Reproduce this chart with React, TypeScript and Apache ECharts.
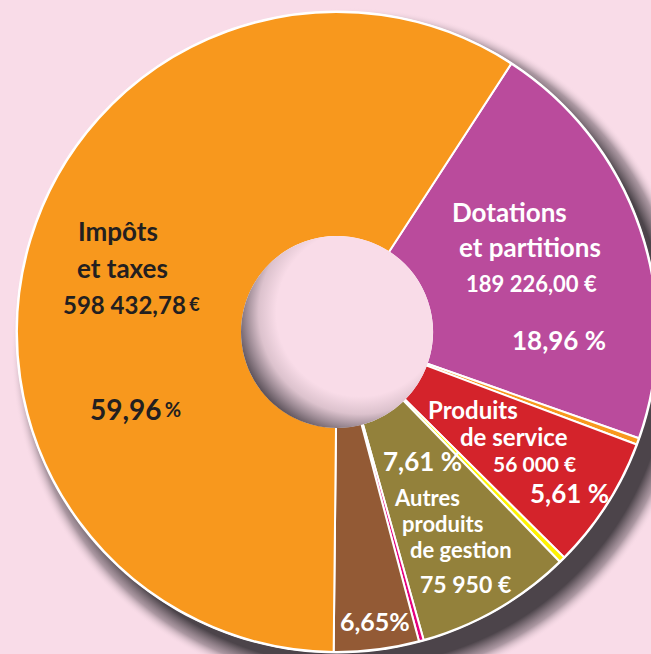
import React, { useEffect, useRef } from "react";
import * as echarts from "echarts";

const categories = [
  "Dotations et partitions",
  "Autres recettes 1",
  "Produits de service",
  "Autres recettes 2",
  "Autres produits de gestion",
  "Autres recettes 3",
  "Autres produits",
  "Impôts et taxes",
];
const shares = [21.22, 0.33, 6.72, 0.31, 7.89, 0.24, 4.29, 59.0];
const colors = ["#BA4B9C", "#F8981D", "#D4232B", "#FFF200", "#93813B", "#E5007D", "#935A35", "#F8981D"];

const impotsLines = ["Impôts", "et taxes"];
const impotsAmount = "598 432,78";
const impotsPct = "59,96";
const dotLines = ["Dotations", "et partitions"];
const dotAmount = "189 226,00 €";
const dotPct = "18,96 %";
const servLines = ["Produits", "de service"];
const servAmount = "56 000 €";
const servPct = "5,61 %";
const gestPct = "7,61 %";
const gestLines = ["Autres", "produits", "de gestion"];
const gestAmount = "75 950 €";
const brownPct = "6,65%";

const FONT = "Lato";

function txt(text: string, x: number, y: number, size: number, color: string) {
  return {
    type: "text",
    z: 50,
    x,
    y,
    style: {
      text,
      fill: color,
      fontFamily: FONT,
      fontWeight: "bold",
      fontSize: size,
      textAlign: "left",
      verticalAlign: "middle",
    },
  };
}

export default function App() {
  const ref = useRef<HTMLDivElement>(null);
  useEffect(() => {
    document.body.style.margin = "0";
    if (!ref.current) return;
    const chart = echarts.init(ref.current, undefined, { renderer: "svg" });
    const cx = 337;
    const cy = 332;
    const dark = "#231F20";
    const white = "#FFFFFF";
    const graphics: any[] = [
      {
        type: "circle",
        z: 0,
        shape: { cx: cx + 16, cy: cy + 18, r: 342 },
        style: {
          fill: {
            type: "radial",
            x: 0.5,
            y: 0.5,
            r: 0.5,
            colorStops: [
              { offset: 0, color: "rgba(76,68,74,1)" },
              { offset: 0.925, color: "rgba(76,68,74,1)" },
              { offset: 0.965, color: "rgba(120,106,115,0.6)" },
              { offset: 1, color: "rgba(249,220,232,0)" },
            ],
          },
        },
      },
      {
        type: "circle",
        z: 1,
        shape: { cx, cy, r: 321.5 },
        style: { fill: "#FFFFFF" },
      },
      {
        type: "circle",
        z: 40,
        shape: { cx, cy, r: 96 },
        style: {
          fill: {
            type: "radial",
            x: 0.62,
            y: 0.4,
            r: 0.66,
            colorStops: [
              { offset: 0, color: "#F9DCE8" },
              { offset: 0.66, color: "#F9DCE8" },
              { offset: 0.8, color: "#dcc2cd" },
              { offset: 0.9, color: "#9c8a94" },
              { offset: 1, color: "#574d55" },
            ],
          },
        },
      },
      txt(impotsLines[0], 78, 231, 26, dark),
      txt(impotsLines[1], 77, 268, 26, dark),
      {
        type: "text",
        z: 50,
        x: 63,
        y: 304,
        style: {
          text: `{n|${impotsAmount}} {e|€}`,
          fill: dark,
          textAlign: "left",
          verticalAlign: "middle",
          rich: {
            n: { fontFamily: FONT, fontWeight: "bold", fontSize: 24, fill: dark },
            e: { fontFamily: FONT, fontWeight: "bold", fontSize: 18, fill: dark },
          },
        },
      },
      {
        type: "text",
        z: 50,
        x: 90,
        y: 409,
        style: {
          text: `{n|${impotsPct}} {p|%}`,
          fill: dark,
          textAlign: "left",
          verticalAlign: "middle",
          rich: {
            n: { fontFamily: FONT, fontWeight: "bold", fontSize: 28, fill: dark },
            p: { fontFamily: FONT, fontWeight: "bold", fontSize: 20, fill: dark },
          },
        },
      },
      txt(dotLines[0], 452, 212, 26, white),
      txt(dotLines[1], 459, 247, 26, white),
      txt(dotAmount, 466, 283, 22, white),
      txt(dotPct, 512, 340, 26, white),
      txt(servLines[0], 428, 409, 24, white),
      txt(servLines[1], 460, 436, 24, white),
      txt(servAmount, 493, 463, 21, white),
      txt(servPct, 530, 493, 26, white),
      txt(gestPct, 383, 461, 26, white),
      txt(gestLines[0], 395, 497, 22, white),
      txt(gestLines[1], 402, 523, 22, white),
      txt(gestLines[2], 410, 549, 22, white),
      txt(gestAmount, 420, 584, 23, white),
      txt(brownPct, 340, 621, 25, white),
    ];
    chart.setOption({
      animation: false,
      backgroundColor: "#F9DCE8",
      graphic: { elements: graphics },
      series: [
        {
          type: "pie",
          z: 2,
          center: [cx, cy],
          radius: [95, 320],
          startAngle: 57,
          clockwise: true,
          avoidLabelOverlap: false,
          label: { show: false },
          labelLine: { show: false },
          emphasis: { disabled: true },
          itemStyle: { borderColor: "#FFFFFF", borderWidth: 2 },
          data: categories.map((name, i) => ({
            name,
            value: shares[i],
            itemStyle: { color: colors[i] },
          })),
        },
      ],
    });
    return () => chart.dispose();
  }, []);
  return <div ref={ref} style={{ width: 651, height: 654 }} />;
}
